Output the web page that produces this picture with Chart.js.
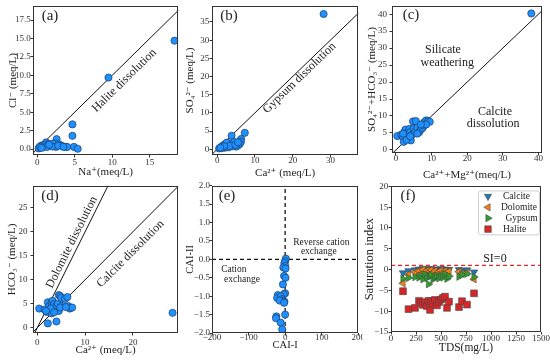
<!DOCTYPE html>
<html>
<head>
<meta charset="utf-8">
<script src="https://cdn.jsdelivr.net/npm/chart.js@4.4.1/dist/chart.umd.min.js"></script>
<style>
  html, body { margin: 0; padding: 0; background: #fff; }
  #fig { position: relative; width: 550px; height: 360px; overflow: hidden; }
  #fig canvas { position: absolute; }
</style>
</head>
<body>
<div id="fig"></div>
<script>
// ---- data ----
// (a) Na+ vs Cl-
const naA = [18.3, 9.5, 4.7, 4.7, 4.9, 5.4, 2.6, 2.5, 2.5, 3.0, 3.3, 3.8, 4.0, 1.2, 1.5, 1.8, 2.1, 1.0, 0.8, 0.5, 0.3, 0.2, 0.4, 1.3, 2.0, 2.8, 0.6, 3.5, 1.6];
const clA = [14.7, 9.7, 3.35, 1.8, 0.3, 0.05, 1.35, 0.75, 0.3, 0.6, 0.45, 0.3, 0.3, 0.9, 0.7, 0.5, 0.75, 0.35, 0.55, 0.45, 0.25, 0.1, 0.3, 0.3, 0.35, 0.45, 0.15, 0.3, 0.6];
// (b) Ca2+ vs SO4 2-
const caB = [28.2, 7.3, 3.8, 6.3, 6.3, 6.0, 5.5, 5.0, 0.5, 1.0, 1.5, 2.0, 2.5, 3.0, 3.5, 4.0, 4.5, 2.0, 3.0, 4.0, 1.2, 2.5, 3.3, 4.8, 5.5, 1.8, 0.8];
const so4B = [37.2, 4.5, 3.7, 2.8, 2.1, 1.5, 1.0, 0.7, 0.2, 0.6, 1.0, 1.3, 0.9, 1.6, 1.2, 1.7, 2.0, 0.4, 0.5, 0.8, 0.3, 1.8, 0.9, 1.2, 1.9, 0.8, 0.4];
// (c) Ca2+ + Mg2+ vs SO4 2- + HCO3-
const camgC = [38.0, 0.4, 1.5, 2.0, 2.2, 2.5, 2.7, 3.0, 3.2, 3.5, 3.8, 4.0, 4.2, 4.5, 4.8, 5.6, 5.0, 5.5, 6.0, 6.5, 7.0, 7.5, 7.8, 8.0, 8.5, 9.0, 9.5, 8.5, 6.0, 3.0, 4.0, 7.0, 2.0];
const so4hcoC = [40.2, 4.1, 4.5, 3.8, 2.4, 5.5, 6.0, 4.3, 5.0, 3.5, 6.2, 5.2, 2.8, 4.5, 8.4, 8.5, 6.3, 5.5, 6.5, 5.2, 6.0, 6.5, 7.2, 8.2, 8.7, 8.5, 8.3, 7.5, 4.8, 3.0, 4.0, 7.5, 4.8];
// (d) Ca2+ vs HCO3-
const caD = [28.3, 4.0, 2.2, 0.4, 1.5, 2.0, 2.2, 2.5, 3.0, 3.2, 3.5, 3.7, 4.0, 4.3, 4.5, 4.8, 5.0, 5.2, 5.8, 6.3, 6.5, 6.8, 7.3, 4.5, 3.0, 2.8, 4.8, 3.5, 1.8, 6.0];
const hcoD = [3.1, 1.3, 0.9, 4.0, 3.8, 3.3, 5.3, 4.5, 5.3, 5.6, 4.9, 3.8, 4.6, 5.0, 6.8, 6.6, 6.2, 4.5, 6.0, 6.4, 4.5, 4.0, 4.2, 3.5, 3.0, 4.0, 4.2, 3.2, 3.5, 4.3];
// (e) CAI-I vs CAI-II
const cai1 = [2, 0, -2, 0, -5, 1, -3, 1, -6, 0, -4, -20, -22, -12, -8, -5, -2, -15, -3, 0, -24, -25, -12, -8];
const cai2 = [0.02, -0.05, -0.1, -0.18, -0.22, -0.25, -0.45, -0.5, -0.68, -0.92, -0.95, -0.97, -1.05, -1.0, -1.08, -1.12, -1.15, -1.12, -1.18, -1.5, -1.55, -1.6, -1.72, -1.9];
// (f) TDS vs saturation index
const tds = [120, 175, 240, 280, 300, 320, 340, 360, 375, 390, 400, 420, 440, 460, 480, 500, 520, 540, 560, 580, 680, 710, 760, 830];
const siCalcite = [-0.8, -0.3, -0.1, 0.1, -0.3, 0.2, -0.2, 0.1, -0.4, 0.0, 0.2, -0.1, 0.1, -0.3, 0.0, 0.2, -0.2, 0.1, -0.1, 0.0, 0.0, -0.3, -0.1, -0.6];
const siDolomite = [-3.3, -1.2, -0.6, -0.3, -1.0, 0.0, -0.8, -0.2, -1.3, -0.5, -0.1, -0.7, -0.3, -1.0, -0.4, -0.2, -0.9, -0.3, -0.6, -0.4, -0.5, -1.0, -0.7, -2.3];
const siGypsum = [-2.2, -2.0, -1.8, -1.9, -1.5, -2.3, -1.2, -2.0, -3.5, -1.6, -1.3, -2.4, -1.8, -1.5, -2.1, -1.4, -1.9, -1.1, -2.2, -1.6, -1.7, -1.2, -1.0, -1.8];
const siHalite = [-5.2, -9.5, -9.2, -7.5, -8.0, -8.5, -7.8, -8.8, -7.5, -9.7, -7.6, -8.2, -7.3, -8.6, -7.8, -7.2, -6.8, -6.5, -9.2, -7.7, -9.0, -7.6, -8.4, -5.7];
const siZero = 1;

// tick labels
const aXTicks = [0, 5, 10, 15];
const aYTicks = [0, 2.5, 5, 7.5, 10, 12.5, 15, 17.5];
const bXTicks = [0, 10, 20, 30];
const bYTicks = [0, 5, 10, 15, 20, 25, 30, 35];
const cXTicks = [0, 10, 20, 30, 40];
const cYTicks = [0, 5, 10, 15, 20, 25, 30, 35, 40];
const dXTicks = [0, 10, 20];
const dYTicks = [0, 5, 10, 15, 20, 25];
const eXTicks = [-200, -100, 0, 100, 200];
const eYTicks = [-2, -1.5, -1, -0.5, 0, 0.5, 1, 1.5, 2];
const fXTicks = [0, 250, 500, 750, 1000, 1250, 1500];
const fYTicks = [-15, -10, -5, 0, 5, 10, 15, 20];

// ---- styling ----
const SERIF = "'Liberation Serif', 'Times New Roman', 'DejaVu Serif', serif";
Chart.defaults.font.family = SERIF;
Chart.defaults.color = "#333";

const DOT = "#1e90ff";
const DOT_EDGE = "#1d3e66";

const pts = (xs, ys) => xs.map((x, i) => ({ x, y: ys[i] }));

function fmt(dec) {
  return (v) => {
    const s = Math.abs(v).toFixed(dec);
    return v < 0 ? "\u2212" + s : s;
  };
}

// a: {min, max, ticks, dec, title, tpad, kpad, tsize}
function axis(horizontal, a, fit) {
  return {
    type: "linear",
    min: a.min,
    max: a.max,
    afterBuildTicks: (s) => {
      s.ticks = a.ticks.map((v) => ({ value: v }));
    },
    afterFit: (s) => {
      if (horizontal) s.height = fit;
      else s.width = fit;
      s.paddingLeft = 0;
      s.paddingRight = 0;
      s.paddingTop = 0;
      s.paddingBottom = 0;
    },
    grid: { display: true, drawOnChartArea: false, drawTicks: true, tickLength: 2.5, color: "#333" },
    border: { display: false },
    ticks: { font: { size: 9 }, color: "#333", padding: a.kpad, callback: fmt(a.dec), maxRotation: 0, autoSkip: false },
    title: {
      display: true,
      text: a.title,
      font: { size: a.tsize || 11 },
      color: "#222",
      padding: horizontal ? { top: 0, bottom: a.tpad } : { top: a.tpad, bottom: 0 },
    },
  };
}

function scatterSet(data) {
  return {
    type: "scatter",
    data,
    pointRadius: 3.6,
    pointBackgroundColor: DOT,
    pointBorderColor: DOT_EDGE,
    pointBorderWidth: 0.7,
    order: 0,
  };
}

function lineSet(data, opts = {}) {
  return Object.assign({
    type: "line",
    data,
    borderColor: "#111",
    borderWidth: 1,
    pointRadius: 0,
    fill: false,
    order: 5,
  }, opts);
}

function marker(ctx, style, rot, x, y, r) {
  ctx.beginPath();
  if (style === "rect") {
    const s = r * Math.SQRT1_2;
    ctx.rect(x - s, y - s, 2 * s, 2 * s);
  } else {
    let a = (rot * Math.PI) / 180;
    ctx.moveTo(x + Math.sin(a) * r, y - Math.cos(a) * r);
    for (let k = 0; k < 2; k++) {
      a += (2 * Math.PI) / 3;
      ctx.lineTo(x + Math.sin(a) * r, y - Math.cos(a) * r);
    }
    ctx.closePath();
  }
  ctx.fill();
  ctx.stroke();
}

// frame + panel letter + notes + optional legend
function decor(label, notes, legend) {
  return {
    id: "decor",
    afterDraw(chart) {
      const { ctx, chartArea: a, scales } = chart;
      ctx.save();
      ctx.strokeStyle = "#333";
      ctx.lineWidth = 1;
      ctx.strokeRect(Math.round(a.left) + 0.5, Math.round(a.top) + 0.5,
        Math.round(a.right - a.left) - 1, Math.round(a.bottom - a.top) - 1);

      ctx.fillStyle = "#222";
      ctx.textBaseline = "middle";
      ctx.textAlign = "center";
      ctx.font = "15px " + SERIF;
      ctx.fillText(label[0], a.left + label[1], a.top + label[2]);

      notes.forEach((n) => {
        const x = scales.x.getPixelForValue(n.x);
        const y = scales.y.getPixelForValue(n.y);
        let ang = 0;
        if (n.slope) {
          const dx = scales.x.getPixelForValue(10) - scales.x.getPixelForValue(0);
          const dy = scales.y.getPixelForValue(10 * n.slope) - scales.y.getPixelForValue(0);
          ang = Math.atan2(dy, dx);
        }
        ctx.save();
        ctx.translate(x, y);
        ctx.rotate(ang);
        ctx.font = (n.size || 12) + "px " + SERIF;
        ctx.textAlign = n.align || "center";
        ctx.fillStyle = "#222";
        ctx.fillText(n.text, 0, 0);
        ctx.restore();
      });

      if (legend) {
        const lx = a.left + 87, ly = a.top + 4, lw = 61, lh = 44;
        ctx.beginPath();
        ctx.roundRect(lx + 0.5, ly + 0.5, lw, lh, 2.5);
        ctx.fillStyle = "rgba(255,255,255,0.85)";
        ctx.fill();
        ctx.strokeStyle = "#cfcfcf";
        ctx.lineWidth = 1;
        ctx.stroke();
        legend.forEach((d, i) => {
          const y = ly + 6 + i * 10.9;
          ctx.fillStyle = d.color;
          ctx.strokeStyle = "#444";
          ctx.lineWidth = 0.6;
          marker(ctx, d.style, d.rot, lx + 10, y, d.style === "rect" ? 4.6 : 4.2);
          ctx.fillStyle = "#222";
          ctx.font = "9.5px " + SERIF;
          ctx.textAlign = "left";
          ctx.fillText(d.label, lx + d.tx, y + 0.5);
        });
      }
      ctx.restore();
    },
  };
}

// ---- layout: cells and plot boxes ----
const fig = document.getElementById("fig");

function panel(cell, box, cfg) {
  const cv = document.createElement("canvas");
  const w = cell[2] - cell[0], h = cell[3] - cell[1];
  cv.width = w;
  cv.height = h;
  cv.style.left = cell[0] + "px";
  cv.style.top = cell[1] + "px";
  cv.style.width = w + "px";
  cv.style.height = h + "px";
  fig.appendChild(cv);
  const L = box[0] - cell[0], T = box[1] - cell[1], R = cell[2] - box[2], B = cell[3] - box[3];
  new Chart(cv, {
    type: "scatter",
    data: { datasets: cfg.datasets },
    options: {
      responsive: false,
      animation: false,
      devicePixelRatio: 1,
      layout: { padding: { left: 0, top: T, right: R, bottom: 0 } },
      plugins: { legend: { display: false }, tooltip: { enabled: false } },
      scales: { x: axis(true, cfg.x, B), y: axis(false, cfg.y, L) },
    },
    plugins: [decor(cfg.label, cfg.notes || [], cfg.legend)],
  });
}

const diag = (lo, hi, k = 1) => [{ x: lo, y: lo * k }, { x: hi, y: hi * k }];

// (a)
panel([0, 0, 183, 181], [33, 6, 182, 155], {
  x: { min: -0.55, max: 18.8, ticks: aXTicks, dec: 0, title: "Na\u207A(meq/L)", tpad: 2.4, kpad: 0 },
  y: { min: -0.8, max: 19.4, ticks: aYTicks, dec: 1, title: "Cl\u207B (meq/L)", tpad: 6.1, kpad: -0.2 },
  label: ["(a)", 17, 10],
  notes: [{ text: "Halite dissolution", x: 11.6, y: 9.3, slope: 1 }],
  datasets: [scatterSet(pts(naA, clA)), lineSet(diag(-5, 25))],
});

// (b)
panel([183, 0, 363, 181], [212, 6, 362, 155], {
  x: { min: -1.4, max: 37.4, ticks: bXTicks, dec: 0, title: "Ca\u00B2\u207A (meq/L)", tpad: 1.4, kpad: -2 },
  y: { min: -1.6, max: 39.4, ticks: bYTicks, dec: 0, title: "SO\u2084\u00B2\u207B (meq/L)", tpad: 0.4, kpad: 0.2 },
  label: ["(b)", 17, 10],
  notes: [{ text: "Gypsum dissolution", x: 21.8, y: 19.6, slope: 1 }],
  datasets: [scatterSet(pts(caB, so4B)), lineSet(diag(-5, 50))],
});

// (c)
panel([363, 0, 550, 181], [392, 6, 542, 153], {
  x: { min: -1.1, max: 41.0, ticks: cXTicks, dec: 0, title: "Ca\u00B2\u207A+Mg\u00B2\u207A(meq/L)", tpad: -0.6, kpad: -2 },
  y: { min: -0.9, max: 42.4, ticks: cYTicks, dec: 0, title: "SO\u2084\u00B2\u207B+HCO\u2083\u207B (meq/L)", tpad: 2.7, kpad: 2.5 },
  label: ["(c)", 19, 9],
  notes: [
    { text: "Silicate", x: 13.2, y: 29.6 },
    { text: "weathering", x: 14.4, y: 25.8 },
    { text: "Calcite", x: 27.8, y: 11.2 },
    { text: "dissolution", x: 27.3, y: 7.6 },
  ],
  datasets: [scatterSet(pts(camgC, so4hcoC)), lineSet(diag(-5, 50))],
});

// (d)
panel([0, 181, 183, 360], [33, 185, 182, 333], {
  x: { min: -0.9, max: 29.5, ticks: dXTicks, dec: 0, title: "Ca\u00B2\u207A (meq/L)", tpad: 3.4, kpad: 1.5 },
  y: { min: -1.1, max: 29.6, ticks: dYTicks, dec: 0, title: "HCO\u2083\u207B (meq/L)", tpad: 5.1, kpad: 3 },
  label: ["(d)", 17, 10],
  notes: [
    { text: "Dolomite dissolution", x: 7.2, y: 17.8, slope: 2 },
    { text: "Calcite dissolution", x: 19.5, y: 15.4, slope: 1 },
  ],
  datasets: [scatterSet(pts(caD, hcoD)), lineSet(diag(-5, 40)), lineSet(diag(-5, 40, 2))],
});

// (e)
panel([183, 181, 363, 360], [212, 185, 360, 333], {
  x: { min: -200, max: 200, ticks: eXTicks, dec: 0, title: "CAI-I", tpad: 8.4, kpad: -3.5, tsize: 10.5 },
  y: { min: -2, max: 2, ticks: eYTicks, dec: 1, title: "CAI-II", tpad: 0.6, kpad: -0.5, tsize: 10.5 },
  label: ["(e)", 15, 10],
  notes: [
    { text: "Reverse cation", x: 22, y: 0.46, size: 9.5, align: "left" },
    { text: "exchange", x: 43, y: 0.22, size: 9.5, align: "left" },
    { text: "Cation", x: -175, y: -0.27, size: 9.5, align: "left" },
    { text: "exchange", x: -167, y: -0.54, size: 9.5, align: "left" },
  ],
  datasets: [
    scatterSet(pts(cai1, cai2)),
    lineSet([{ x: -200, y: 0 }, { x: 200, y: 0 }], { borderDash: [4, 3], borderWidth: 1.3 }),
    lineSet([{ x: 0, y: -2 }, { x: 0, y: 2 }], { borderDash: [4, 3], borderWidth: 1.3 }),
  ],
});

// (f)
const fSeries = [
  { label: "Calcite", ys: siCalcite, color: "#1f77b4", style: "triangle", rot: 180, tx: 25 },
  { label: "Dolomite", ys: siDolomite, color: "#ff7f0e", style: "triangle", rot: 270, tx: 23 },
  { label: " Gypsum", ys: siGypsum, color: "#2ca02c", style: "triangle", rot: 90, tx: 25 },
  { label: "Halite", ys: siHalite, color: "#d62728", style: "rect", rot: 0, tx: 25 },
];
panel([363, 181, 550, 360], [391, 185, 541, 332], {
  x: { min: 0, max: 1500, ticks: fXTicks, dec: 0, title: "TDS(mg/L)", tpad: 5.4, kpad: -1, tsize: 11.5 },
  y: { min: -15, max: 20, ticks: fYTicks, dec: 0, title: "Saturation index", tpad: -0.6, kpad: 0.2, tsize: 12.5 },
  label: ["(f)", 17, 10],
  notes: [{ text: "SI=0", x: 922, y: 2.6, size: 12, align: "left" }],
  legend: fSeries,
  datasets: [
    ...fSeries.map((s, i) => ({
      type: "scatter",
      data: pts(tds, s.ys),
      pointStyle: s.style,
      pointRotation: s.rot,
      pointRadius: s.style === "rect" ? 4.8 : 4.3,
      pointBackgroundColor: s.color,
      pointBorderColor: "#444",
      pointBorderWidth: 0.6,
      order: 4 - i,
    })),
    lineSet([{ x: 0, y: siZero }, { x: 1500, y: siZero }], { borderColor: "#e0282a", borderDash: [4, 3], borderWidth: 1.3, order: 10 }),
  ],
});
</script>
</body>
</html>
